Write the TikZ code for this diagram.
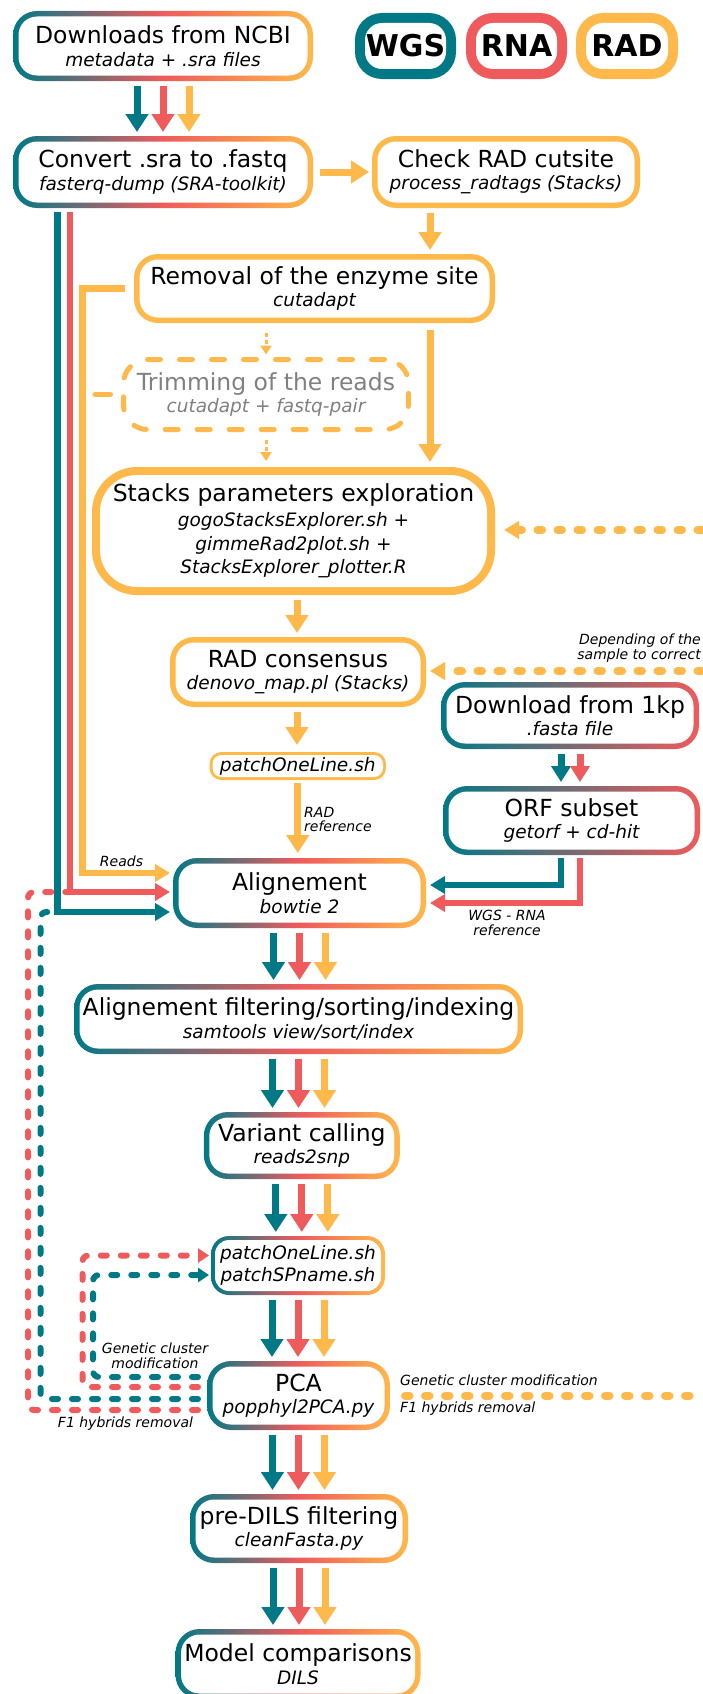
\documentclass[tikz,border=0pt]{standalone}
\usepackage{fontspec}
\setmainfont{DejaVu Sans}
\usetikzlibrary{arrows.meta}
\definecolor{cT}{RGB}{0,121,135}
\definecolor{cR}{RGB}{239,91,92}
\definecolor{cO}{RGB}{255,184,74}
\definecolor{cG}{RGB}{128,128,128}
\pgfdeclarelayer{bg}
\pgfsetlayers{bg,main}
\tikzset{tgrad/.style={left color=cT, right color=cO, middle color=cR},
 tred/.style={left color=cT, right color=cR}}
\newcommand\Ttl{\fontsize{23.5}{22.5}\selectfont}
\newcommand\Sub{\fontsize{18.5}{22.5}\selectfont\itshape}
\newcommand\Lab{\fontsize{14}{14.5}\selectfont\itshape}
\newcommand\gbox[4]{%
 \begin{pgfonlayer}{bg}
 \path[#2, rounded corners=#4pt] (#1.south west) rectangle (#1.north east);
 \fill[white, rounded corners=#4pt-#3pt] ([shift={(#3,-#3)}]#1.south west) rectangle ([shift={(-#3,#3)}]#1.north east);
 \end{pgfonlayer}}
\newcommand\tri[2]{%
 \draw[arr,cT] ([xshift=-26pt]#1.south) -- ([xshift=-26pt]#1.south |- #2.north);
 \draw[arr,cR] (#1.south) -- (#1.south |- #2.north);
 \draw[arr,cO] ([xshift=26pt]#1.south) -- ([xshift=26pt]#1.south |- #2.north);}
\begin{document}
\begin{tikzpicture}[x=1pt,y=-1pt,
 bx/.style={inner sep=0pt, outer sep=0pt, align=center, font=\Ttl},
 lg/.style={inner sep=0pt, outer sep=0pt, font=\fontsize{30}{30}\selectfont\bfseries},
 lab/.style={inner sep=0pt, font=\Lab},
 arr/.style={line width=7pt, -{Triangle[width=22pt,length=18pt]}, shorten <=4.5pt, shorten >=4pt},
 arrs/.style={line width=6.5pt, -{Triangle[width=17pt,length=15pt]}},
 ln/.style={line width=6.5pt},
 dotarr/.style={cO, line width=8pt, line cap=round, dash pattern=on 4.5pt off 15.5pt},
 dl/.style={line width=6pt, line cap=round, dash pattern=on 6pt off 14pt, rounded corners=6pt},
 thinarr/.style={cO, line width=3pt, dash pattern=on 4pt off 3pt, -{Triangle[width=11pt,length=9pt]}},
]
\useasboundingbox (0,0) rectangle (702,1694);

% ---------- nodes ----------
\node[bx, minimum width=300pt, minimum height=70pt] (ncbi) at (163,46) {Downloads from NCBI\\\Sub metadata + .sra files};
\gbox{ncbi}{tgrad}{5.5}{24}

\node[lg, minimum width=101pt, minimum height=66pt] (wgs) at (405.5,46) {WGS};
\gbox{wgs}{fill=cT}{10}{27}
\node[lg, minimum width=101pt, minimum height=66pt] (rna) at (516.5,46) {RNA};
\gbox{rna}{fill=cR}{10}{27}
\node[lg, minimum width=102pt, minimum height=66pt] (rad) at (627,46) {RAD};
\gbox{rad}{fill=cO}{10}{27}

\node[bx, minimum width=300pt, minimum height=72pt] (convert) at (163,172) {Convert .sra to .fastq\\\Sub fasterq-dump (SRA-toolkit)};
\gbox{convert}{tgrad}{5.5}{24}

\node[bx, minimum width=268pt, minimum height=72pt] (check) at (506,172) {Check RAD cutsite\\\Sub process\_radtags (Stacks)};
\gbox{check}{fill=cO}{5.5}{24}

\node[bx, minimum width=361pt, minimum height=69pt] (removal) at (314.5,288.5) {Removal of the enzyme site\\\Sub cutadapt};
\gbox{removal}{fill=cO}{5.5}{24}

\node[bx, draw=cO, line width=5pt, dash pattern=on 13pt off 19pt, line cap=round, rounded corners=24pt, text=cG, minimum width=285pt, minimum height=70pt] (trim) at (266,394.5) {Trimming of the reads\\\Sub cutadapt + fastq-pair};

\node[bx, font=\fontsize{23.5}{23.5}\selectfont, minimum width=403pt, minimum height=128pt] (stacks) at (293.5,531) {Stacks parameters exploration\\[1.5pt]\Sub gogoStacksExplorer.sh +\\\Sub gimmeRad2plot.sh +\\\Sub StacksExplorer\_plotter.R};
\gbox{stacks}{fill=cO}{8}{45}

\node[bx, minimum width=256pt, minimum height=70pt] (radcons) at (298,672) {RAD consensus\\\Sub denovo\_map.pl (Stacks)};
\gbox{radcons}{fill=cO}{5.5}{24}

\node[bx, minimum width=258pt, minimum height=67pt] (dl) at (570,715.5) {Download from 1kp\\\Sub .fasta file};
\gbox{dl}{tred}{5.5}{24}

\node[bx, minimum width=257pt, minimum height=69pt] (orf) at (571.5,820.5) {ORF subset\\\Sub getorf + cd-hit};
\gbox{orf}{tred}{5.5}{24}

\node[bx, font=\Sub, minimum width=176.5pt, minimum height=28pt] (patcha) at (297.75,766) {patchOneLine.sh};
\gbox{patcha}{fill=cO}{3}{12}

\node[bx, minimum width=253pt, minimum height=70pt] (align) at (299.5,893) {Alignement\\\Sub bowtie 2};
\gbox{align}{tgrad}{5.5}{24}

\node[bx, minimum width=449pt, minimum height=70pt] (filter) at (298.5,1019) {Alignement filtering/sorting/indexing\\\Sub samtools view/sort/index};
\gbox{filter}{tgrad}{5.5}{24}

\node[bx, minimum width=196pt, minimum height=67pt] (variant) at (301.8,1145.5) {Variant calling\\\Sub reads2snp};
\gbox{variant}{tgrad}{5.5}{24}

\node[bx, font=\fontsize{18.5}{22}\selectfont\itshape, minimum width=174pt, minimum height=59pt] (patchb) at (298,1265.5) {patchOneLine.sh\\patchSPname.sh};
\gbox{patchb}{tgrad}{4}{18}

\node[bx, minimum width=183pt, minimum height=69pt] (pca) at (298.5,1395.5) {PCA\\\Sub popphyl2PCA.py};
\gbox{pca}{tgrad}{5.5}{24}

\node[bx, minimum width=218pt, minimum height=69pt] (predils) at (299,1528.5) {pre-DILS filtering\\\Sub cleanFasta.py};
\gbox{predils}{tgrad}{5.5}{24}

\node[bx, minimum width=245pt, minimum height=70pt] (model) at (298,1664) {Model comparisons\\\Sub DILS};
\gbox{model}{tgrad}{5.5}{24}

% ---------- main vertical arrows ----------
\tri{ncbi}{convert}
\tri{align}{filter}
\tri{filter}{variant}
\tri{variant}{patchb}
\tri{patchb}{pca}
\tri{pca}{predils}
\tri{predils}{model}

\draw[arr,cO,shorten <=7pt,shorten >=3pt] (convert.east) -- (check.west);
\draw[arr,cO] ([xshift=-76pt]check.south) -- ([xshift=-76pt]check.south |- removal.north);
\draw[arr,cO,shorten <=7pt,shorten >=5pt] ([xshift=115.5pt]removal.south) -- ([xshift=115.5pt]removal.south |- stacks.north);
\draw[arr,cO] ([xshift=3.5pt]stacks.south) -- ([xshift=3.5pt]stacks.south |- radcons.north);
\draw[arr,cO,shorten >=7pt] ([xshift=-1pt]radcons.south) -- ([xshift=-1pt]radcons.south |- patcha.north);
\draw[arr,cO,shorten <=3pt,shorten >=5pt] (patcha.south) -- (patcha.south |- align.north);

\draw[arr,cT,-{Triangle[width=19pt,length=16pt]}] ([xshift=-9pt]dl.south) -- ([xshift=-9pt]dl.south |- orf.north);
\draw[arr,cR,-{Triangle[width=19pt,length=16pt]}] ([xshift=10pt]dl.south) -- ([xshift=10pt]dl.south |- orf.north);

% trimming dashed arrows
\draw[thinarr, shorten <=10pt, shorten >=5pt] ([xshift=-48.5pt]removal.south) -- ([xshift=-48.5pt]removal.south |- trim.north);
\draw[thinarr, shorten <=10pt, shorten >=6pt] (trim.south) -- (trim.south |- stacks.north);
\draw[cO, line width=5pt, line cap=round] ([xshift=-13pt]trim.west) -- ([xshift=-28.5pt]trim.west);

% ---------- left reads lines ----------
\coordinate (tc) at (57.5,912);
\coordinate (rc) at (70,892);
\coordinate (oc) at (82.5,873);
\draw[ln,cT,arrs,shorten <=4pt,shorten >=3pt] (convert.south -| tc) -- (tc) -- (tc -| align.west);
\draw[ln,cR,arrs,shorten <=4pt,shorten >=3pt] (convert.south -| rc) -- (rc) -- (rc -| align.west);
\draw[ln,cO,arrs,shorten <=9pt,shorten >=3pt] (removal.west) -- (removal.west -| oc) -- (oc) -- (oc -| align.west);

% ---------- ORF references ----------
\draw[ln,cT,arrs,shorten <=3pt,shorten >=4pt] ([xshift=-10.5pt]orf.south) |- ([yshift=8pt]align.east);
\draw[ln,cR,arrs,shorten <=3pt,shorten >=4pt] ([xshift=8.5pt]orf.south) |- ([yshift=-10pt]align.east);

% ---------- dotted orange feedback ----------
\coordinate (ea) at (702,530);
\coordinate (eb) at (702,671);
\coordinate (ec) at (702,1395.5);
\draw[dotarr,-{Triangle[width=17pt,length=15pt]},shorten >=9pt] (ea) -- (ea -| stacks.east);
\draw[dotarr,-{Triangle[width=17pt,length=15pt]},shorten >=4pt] (eb) -- (eb -| radcons.east);
\draw[dotarr,shorten <=15pt] (pca.east) -- (ec);

% ---------- dashed loops left ----------
\draw[dl,cR] ([shift={(-9,14.5)}]pca.west) -| (28,892) -- (rc);
\draw[dl,cT] ([shift={(-9,3.5)}]pca.west) -| (40.5,912) -- (tc);
\draw[dl,cR,-{Triangle[width=14pt,length=11pt]}] ([shift={(-9,-8.5)}]pca.west) -| ([shift={(-128.5,-10)}]patchb.west) -- ([shift={(-2,-10)}]patchb.west);
\draw[dl,cT,-{Triangle[width=14pt,length=11pt]}] ([shift={(-9,-18.5)}]pca.west) -| ([shift={(-118,9.5)}]patchb.west) -- ([shift={(-2,9.5)}]patchb.west);

% ---------- labels ----------
\node[lab] (lreads) at (121.5,861) {Reads};
\node[lab, align=left, anchor=west] (lradref) at (304,819.5) {RAD\\reference};
\node[lab, align=center] (lwgsref) at (507,923) {WGS - RNA\\reference};
\node[lab, align=right, anchor=east] (ldep) at (701,648) {Depending of the\\sample to correct};
\node[lab, align=center] (lgc1) at (155,1356) {Genetic cluster\\modification};
\node[lab] (lf1a) at (125.5,1424) {F1 hybrids removal};
\node[lab, anchor=west] (lgc2) at (400,1380) {Genetic cluster modification};
\node[lab, anchor=west] (lf1b) at (400,1409) {F1 hybrids removal};
\end{tikzpicture}
\end{document}
